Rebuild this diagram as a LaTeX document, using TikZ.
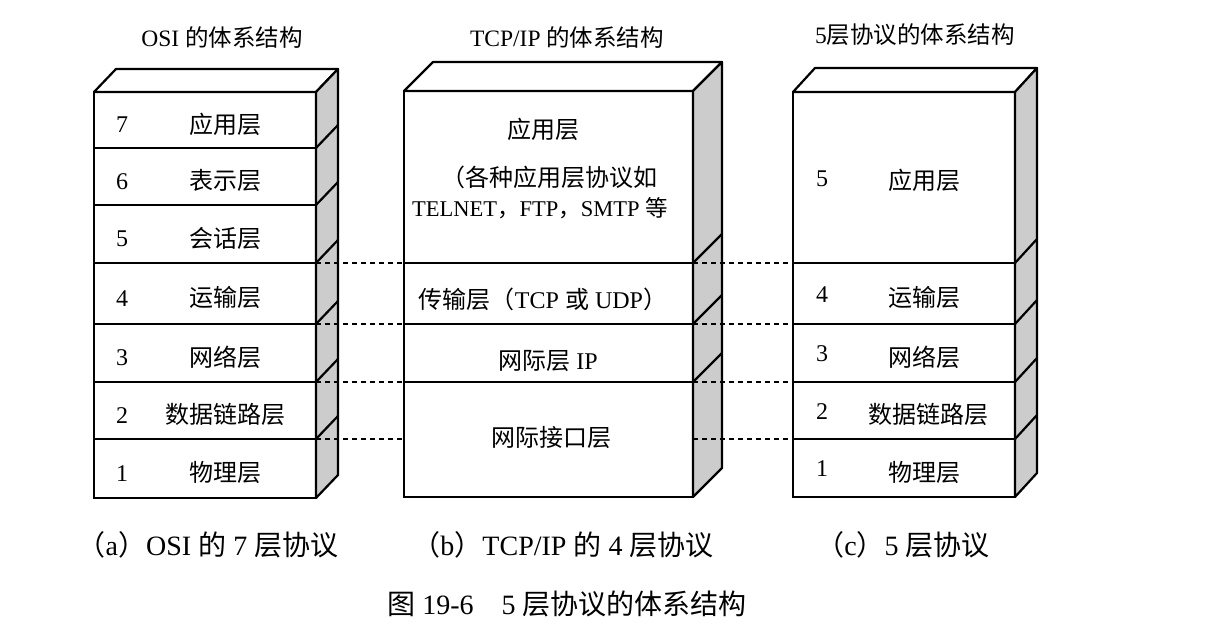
\documentclass[tikz,border=0pt]{standalone}
\usepackage{fontspec}
\setmainfont{Liberation Serif}
\newfontfamily\cjk{Noto Sans CJK SC}
\usetikzlibrary{%
	positioning,%
}
\newcommand{\zh}[1]{{\cjk #1}}
\tikzset{
	layer/.style={%
			draw,%
			rectangle,%
			line width=2.2pt,%
			inner sep=0,%
			outer sep=0,%
			fill=white},%
	side/.style={%
			draw,%
			line width=2.2pt,%
			line join=round,%
			fill=gray!40},%
	lid/.style={%
			draw,%
			line width=2.2pt,%
			line join=round,%
			fill=white},%
	split/.style={%
			draw,%
			line width=2.2pt},%
	guide/.style={%
			draw,%
			line width=1.2pt,%
			dash pattern=on 5pt off 4pt},%
	layertext/.style={%
			font={\fontsize{24}{28}\selectfont},%
			inner sep=0},%
	titletext/.style={%
			font={\fontsize{23.5}{28}\selectfont}},%
	captiontext/.style={%
			font={\fontsize{28}{32}\selectfont}},%
}

\begin{document}
\begin{tikzpicture}[x=1pt, y=-1pt]
	\useasboundingbox (0,0) rectangle (1208,635);

	% (a) OSI
	\node[layer, minimum width=222pt, minimum height=56pt, anchor=north west] (osi7) at (94,92) {};
	\node[layer, minimum width=222pt, minimum height=57pt, below=0pt of osi7] (osi6) {};
	\node[layer, minimum width=222pt, minimum height=58pt, below=0pt of osi6] (osi5) {};
	\node[layer, minimum width=222pt, minimum height=61pt, below=0pt of osi5] (osi4) {};
	\node[layer, minimum width=222pt, minimum height=58pt, below=0pt of osi4] (osi3) {};
	\node[layer, minimum width=222pt, minimum height=57pt, below=0pt of osi3] (osi2) {};
	\node[layer, minimum width=222pt, minimum height=59pt, below=0pt of osi2] (osi1) {};

	\path[lid] (osi7.north west) -- ++(22,-23) -- ++(222,0) -- (osi7.north east) -- cycle;
	\path[side] (osi7.north east) -- ++(22,-23) -- ([shift={(22,-23)}]osi1.south east) -- (osi1.south east) -- cycle;
	\draw[split] (osi6.north east) -- ++(22,-23);
	\draw[split] (osi5.north east) -- ++(22,-23);
	\draw[split] (osi4.north east) -- ++(22,-23);
	\draw[split] (osi3.north east) -- ++(22,-23);
	\draw[split] (osi2.north east) -- ++(22,-23);
	\draw[split] (osi1.north east) -- ++(22,-23);

	\node[layertext] (osinum7) at ([xshift=28pt, yshift=-5pt]osi7.west) {7};
	\node[layertext] (osinum6) at ([xshift=28pt, yshift=-5pt]osi6.west) {6};
	\node[layertext] (osinum5) at ([xshift=28pt, yshift=-5pt]osi5.west) {5};
	\node[layertext] (osinum4) at ([xshift=28pt, yshift=-5pt]osi4.west) {4};
	\node[layertext] (osinum3) at ([xshift=28pt, yshift=-5pt]osi3.west) {3};
	\node[layertext] (osinum2) at ([xshift=28pt, yshift=-5pt]osi2.west) {2};
	\node[layertext] (osinum1) at ([xshift=28pt, yshift=-5pt]osi1.west) {1};
	\node[layertext] (osiname7) at ([xshift=131pt, yshift=-4pt]osi7.west) {\zh{应用层}};
	\node[layertext] (osiname6) at ([xshift=131pt, yshift=-4pt]osi6.west) {\zh{表示层}};
	\node[layertext] (osiname5) at ([xshift=131pt, yshift=-4pt]osi5.west) {\zh{会话层}};
	\node[layertext] (osiname4) at ([xshift=131pt, yshift=-4pt]osi4.west) {\zh{运输层}};
	\node[layertext] (osiname3) at ([xshift=131pt, yshift=-4pt]osi3.west) {\zh{网络层}};
	\node[layertext] (osiname2) at ([xshift=131pt, yshift=-4pt]osi2.west) {\zh{数据链路层}};
	\node[layertext] (osiname1) at ([xshift=131pt, yshift=-4pt]osi1.west) {\zh{物理层}};

	% (b) TCP/IP
	\node[layer, minimum width=289pt, minimum height=172pt, anchor=north west] (tcpapp) at (404,91) {};
	\node[layer, minimum width=289pt, minimum height=61pt, below=0pt of tcpapp] (tcptrans) {};
	\node[layer, minimum width=289pt, minimum height=58pt, below=0pt of tcptrans] (tcpnet) {};
	\node[layer, minimum width=289pt, minimum height=115pt, below=0pt of tcpnet] (tcplink) {};

	\path[lid] (tcpapp.north west) -- ++(29,-29) -- ++(289,0) -- (tcpapp.north east) -- cycle;
	\path[side] (tcpapp.north east) -- ++(29,-29) -- ([shift={(29,-29)}]tcplink.south east) -- (tcplink.south east) -- cycle;
	\draw[split] (tcptrans.north east) -- ++(29,-29);
	\draw[split] (tcpnet.north east) -- ++(29,-29);
	\draw[split] (tcplink.north east) -- ++(29,-29);

	\node[layertext] (tcpappname) at (543,129) {\zh{应用层}};
	\node[layertext] (tcpappnote) at (549,177) {\zh{（各种应用层协议如}};
	\node[layertext, font={\fontsize{22.5}{26}\selectfont}] (tcpappproto) at (540,208) {TELNET\zh{，}FTP\zh{，}SMTP \zh{等}};
	\node[layertext] (tcptransname) at (543,299) {\zh{传输层（}TCP \zh{或} UDP\zh{）}};
	\node[layertext] (tcpnetname) at (548,361) {\zh{网际层} IP};
	\node[layertext] (tcplinkname) at (551,437) {\zh{网际接口层}};

	% (c) five layers
	\node[layer, minimum width=222pt, minimum height=171pt, anchor=north west] (five5) at (793,92) {};
	\node[layer, minimum width=222pt, minimum height=61pt, below=0pt of five5] (five4) {};
	\node[layer, minimum width=222pt, minimum height=58pt, below=0pt of five4] (five3) {};
	\node[layer, minimum width=222pt, minimum height=57pt, below=0pt of five3] (five2) {};
	\node[layer, minimum width=222pt, minimum height=58pt, below=0pt of five2] (five1) {};

	\path[lid] (five5.north west) -- ++(22,-24) -- ++(222,0) -- (five5.north east) -- cycle;
	\path[side] (five5.north east) -- ++(22,-24) -- ([shift={(22,-24)}]five1.south east) -- (five1.south east) -- cycle;
	\draw[split] (five4.north east) -- ++(22,-24);
	\draw[split] (five3.north east) -- ++(22,-24);
	\draw[split] (five2.north east) -- ++(22,-24);
	\draw[split] (five1.north east) -- ++(22,-24);

	\node[layertext] (fivenum5) at ([xshift=29pt, yshift=-1pt]five5.west) {5};
	\node[layertext] (fivenum4) at ([xshift=29pt, yshift=-1pt]five4.west) {4};
	\node[layertext] (fivenum3) at ([xshift=29pt, yshift=-1pt]five3.west) {3};
	\node[layertext] (fivenum2) at ([xshift=29pt, yshift=-1pt]five2.west) {2};
	\node[layertext] (fivenum1) at ([xshift=29pt, yshift=-1pt]five1.west) {1};
	\node[layertext] (fivename5) at ([xshift=131pt, yshift=-3pt]five5.west) {\zh{应用层}};
	\node[layertext] (fivename4) at ([xshift=131pt, yshift=-4pt]five4.west) {\zh{运输层}};
	\node[layertext] (fivename3) at ([xshift=131pt, yshift=-4pt]five3.west) {\zh{网络层}};
	\node[layertext] (fivename2) at ([xshift=135pt, yshift=-4pt]five2.west) {\zh{数据链路层}};
	\node[layertext] (fivename1) at ([xshift=131pt, yshift=-4pt]five1.west) {\zh{物理层}};

	% dashed guides
	\draw[guide] (osi4.north east) -- (tcptrans.north west);
	\draw[guide] (osi3.north east) -- (tcpnet.north west);
	\draw[guide] (osi2.north east) -- (tcplink.north west);
	\draw[guide] (osi1.north east) -- (osi1.north east -| tcplink.west);
	\draw[guide] (tcptrans.north east) -- (five4.north west);
	\draw[guide] (tcpnet.north east) -- (five3.north west);
	\draw[guide] (tcplink.north east) -- (five2.north west);
	\draw[guide] (five1.north west -| tcplink.east) -- (five1.north west);

	% titles and captions
	\node[titletext] (osititle) at (222,38) {OSI \zh{的体系结构}};
	\node[titletext] (tcptitle) at (567,38) {TCP/IP \zh{的体系结构}};
	\node[titletext] (fivetitle) at (915,35) {5\zh{层协议的体系结构}};
	\node[captiontext] (osicap) at (208,545) {\zh{（}a\zh{）}OSI \zh{的} 7 \zh{层协议}};
	\node[captiontext] (tcpcap) at (563,545) {\zh{（}b\zh{）}TCP/IP \zh{的} 4 \zh{层协议}};
	\node[captiontext] (fivecap) at (903,545) {\zh{（}c\zh{）}5 \zh{层协议}};
	\node[captiontext] (figcap) at (567,604) {\zh{图} 19-6\quad 5 \zh{层协议的体系结构}};
\end{tikzpicture}
\end{document}
